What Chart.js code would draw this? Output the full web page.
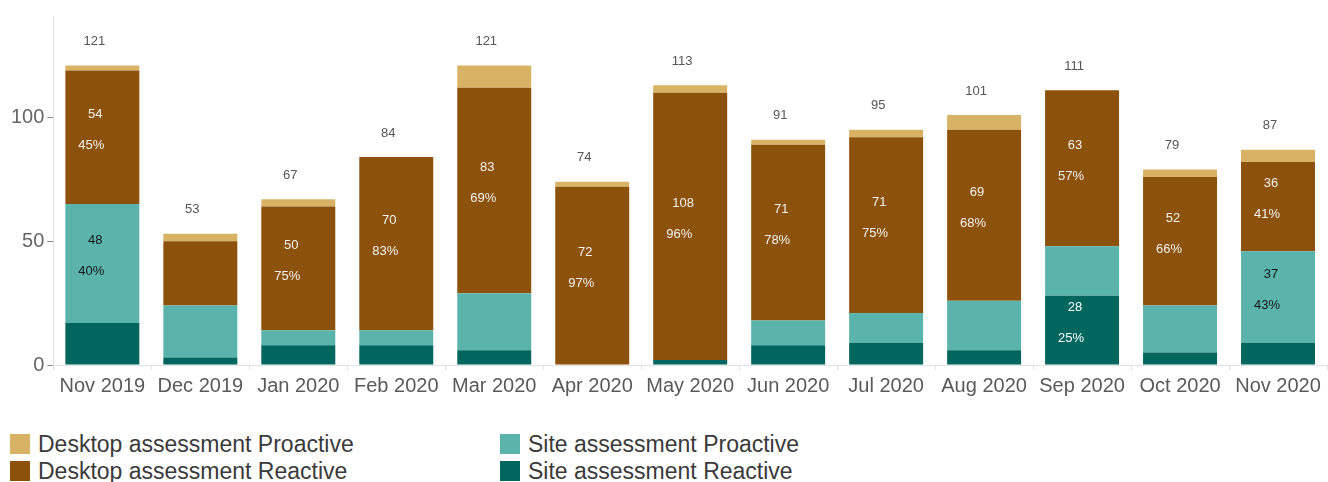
<!DOCTYPE html>
<html>
<head>
<meta charset="utf-8">
<script src="https://cdn.jsdelivr.net/npm/chart.js@4.4.1/dist/chart.umd.min.js"></script>
<style>
    html, body { margin: 0; padding: 0; background: #fff; }
    body { width: 1328px; height: 482px; position: relative; overflow: hidden; font-family: 'Liberation Sans', Arial, sans-serif; }
    #wrap { position: absolute; left: 0; top: 0; width: 1328px; height: 402px; }
    .legend { position: absolute; font-size: 23px; color: #3a3a3a; line-height: 20px; white-space: nowrap; }
    .legend span { display: inline-block; width: 20px; height: 20px; vertical-align: top; margin-right: 8px; }
</style>
</head>
<body>
<div id="wrap"><canvas id="chart"></canvas></div>
<div id="legend"></div>
<script>
const months = ['Nov 2019', 'Dec 2019', 'Jan 2020', 'Feb 2020', 'Mar 2020', 'Apr 2020', 'May 2020',
    'Jun 2020', 'Jul 2020', 'Aug 2020', 'Sep 2020', 'Oct 2020', 'Nov 2020'];

const siteReactive     = [17, 3, 8, 8, 6, 0, 2, 8, 9, 6, 28, 5, 9];
const siteProactive    = [48, 21, 6, 6, 23, 0, 0, 10, 12, 20, 20, 19, 37];
const desktopReactive  = [54, 26, 50, 70, 83, 72, 108, 71, 71, 69, 63, 52, 36];
const desktopProactive = [2, 3, 3, 0, 9, 2, 3, 2, 3, 6, 0, 3, 5];

const yTicks = [0, 50, 100];
const labelMin = 28; // segments smaller than this get no value label

const colors = {
    desktopProactive: '#d8b365',
    desktopReactive: '#8c510a',
    siteProactive: '#5ab4ac',
    siteReactive: '#01665e'
};

const totals = months.map((_, i) => siteReactive[i] + siteProactive[i] + desktopReactive[i] + desktopProactive[i]);

const datasets = [
    { label: 'Site assessment Reactive', data: siteReactive, backgroundColor: colors.siteReactive, textColor: '#ffffff' },
    { label: 'Site assessment Proactive', data: siteProactive, backgroundColor: colors.siteProactive, textColor: '#151515' },
    { label: 'Desktop assessment Reactive', data: desktopReactive, backgroundColor: colors.desktopReactive, textColor: '#f2f2f2' },
    { label: 'Desktop assessment Proactive', data: desktopProactive, backgroundColor: colors.desktopProactive, textColor: '#ffffff' }
];

// value / percent labels inside segments plus totals over the bars
const valueLabels = {
    id: 'valueLabels',
    afterDatasetsDraw(chart) {
        const ctx = chart.ctx;
        ctx.save();
        ctx.font = '13px "Liberation Sans", Arial, sans-serif';
        ctx.textAlign = 'center';
        ctx.textBaseline = 'middle';
        chart.data.datasets.forEach((ds, di) => {
            const meta = chart.getDatasetMeta(di);
            meta.data.forEach((bar, i) => {
                const v = ds.data[i];
                if (v < labelMin) return;
                const mid = (bar.y + bar.base) / 2;
                const pct = Math.round(v / totals[i] * 100) + '%';
                ctx.fillStyle = ds.textColor;
                ctx.fillText(String(v), bar.x - 7, mid - 23);
                ctx.fillText(pct, bar.x - 11, mid + 8);
            });
        });
        const top = chart.getDatasetMeta(chart.data.datasets.length - 1);
        ctx.fillStyle = '#555555';
        top.data.forEach((bar, i) => {
            const y = chart.scales.y.getPixelForValue(totals[i]);
            ctx.fillText(String(totals[i]), bar.x - 8, y - 24);
        });
        ctx.restore();
    }
};

new Chart(document.getElementById('chart'), {
    type: 'bar',
    data: {
        labels: months,
        datasets: datasets.map(d => ({
            label: d.label,
            data: d.data,
            backgroundColor: d.backgroundColor,
            textColor: d.textColor,
            borderWidth: 0,
            barPercentage: 0.755,
            categoryPercentage: 1
        }))
    },
    options: {
        responsive: true,
        maintainAspectRatio: false,
        animation: false,
        events: [],
        layout: {
            padding: { top: 16, left: 8, right: 1, bottom: 0 }
        },
        plugins: {
            legend: { display: false },
            tooltip: { enabled: false }
        },
        scales: {
            x: {
                stacked: true,
                border: { color: '#e2e2e2', width: 1 },
                grid: {
                    offset: true,
                    drawOnChartArea: false,
                    tickLength: 5,
                    color: '#e2e2e2'
                },
                ticks: {
                    color: '#5a5a5a',
                    padding: 4,
                    maxRotation: 0,
                    font: { family: '"Liberation Sans", Arial, sans-serif', size: 20 }
                }
            },
            y: {
                stacked: true,
                min: 0,
                max: 141,
                afterBuildTicks: axis => {
                    axis.ticks = yTicks.map(v => ({ value: v }));
                },
                border: { color: '#e2e2e2', width: 1 },
                grid: {
                    drawOnChartArea: false,
                    tickLength: 6,
                    tickColor: '#8a8a8a'
                },
                ticks: {
                    color: '#666666',
                    padding: 3,
                    font: { family: '"Liberation Sans", Arial, sans-serif', size: 20 }
                }
            }
        }
    },
    plugins: [valueLabels]
});

// legend in two columns, same order as the reference
const legendItems = [
    { label: 'Desktop assessment Proactive', color: colors.desktopProactive, x: 10, y: 434 },
    { label: 'Site assessment Proactive', color: colors.siteProactive, x: 500, y: 434 },
    { label: 'Desktop assessment Reactive', color: colors.desktopReactive, x: 10, y: 461 },
    { label: 'Site assessment Reactive', color: colors.siteReactive, x: 500, y: 461 }
];
const legendEl = document.getElementById('legend');
legendItems.forEach(item => {
    const div = document.createElement('div');
    div.className = 'legend';
    div.style.left = item.x + 'px';
    div.style.top = item.y + 'px';
    const box = document.createElement('span');
    box.style.background = item.color;
    div.appendChild(box);
    div.appendChild(document.createTextNode(item.label));
    legendEl.appendChild(div);
});
</script>
</body>
</html>
